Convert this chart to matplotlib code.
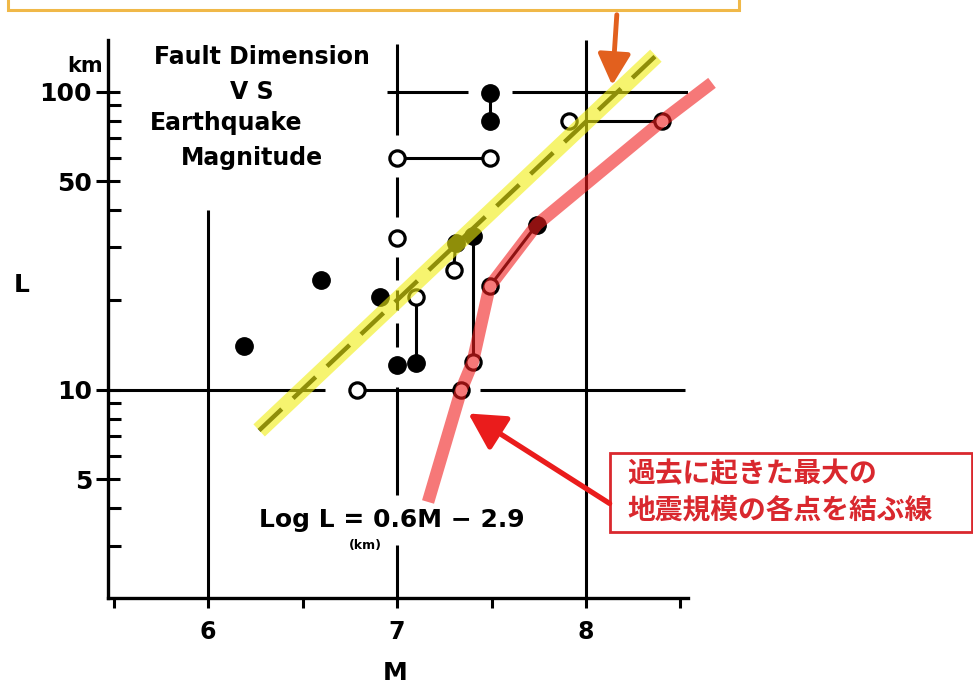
import matplotlib
matplotlib.use("Agg")
import matplotlib.pyplot as plt
from matplotlib.patches import Rectangle, FancyArrowPatch
from matplotlib.ticker import NullFormatter, FixedLocator, FixedFormatter

# ---------------- data ----------------
filled_M = [6.19, 6.60, 6.91, 7.00, 7.10, 7.31, 7.40, 7.49, 7.49, 7.74]
filled_L = [14.0, 23.3, 20.5, 12.1, 12.3, 31.0, 32.7, 99.0, 79.5, 35.8]

open_M = [7.00, 7.49, 7.91, 7.00, 7.10, 7.30, 6.79, 7.34, 7.40, 7.49, 8.40]
open_L = [60.0, 60.0, 80.0, 32.3, 20.5, 25.3, 10.0, 10.0, 12.35, 22.2, 79.5]

# lines joining pairs of points
link_M = [[7.00, 7.49], [8.00, 8.40], [7.49, 7.49], [7.10, 7.10],
          [7.31, 7.30], [7.40, 7.40], [7.49, 7.74], [6.83, 7.31]]
link_L = [[60, 60], [80, 80], [99, 79.5], [12.3, 20.5],
          [31.0, 25.3], [32.7, 12.35], [22.2, 35.8], [10, 10]]

# drawn guide lines of the original figure
guide_M = [[6.947, 7.376], [7.608, 8.54], [5.47, 6.62], [7.44, 8.525],
           [6, 6], [8, 8], [7, 7], [7, 7], [7, 7], [7, 7]]
guide_L = [[100, 100], [100, 100], [10, 10], [10, 10],
           [40, 2.0], [149, 2.0], [145, 71.6], [51.9, 38.1], [10.2, 4.44], [3.02, 2.0]]
dash_M = [[7, 7], [7, 7], [7, 7]]
dash_L = [[27.9, 23.4], [21.6, 18.5], [16.8, 13.9]]

# relation Log L = 0.6M - 2.9 (end points of the drawn line)
fit_M = [6.27, 8.37]
fit_L = [7.3, 132.0]

# highlighted line of largest past earthquakes
max_M = [7.164, 7.34, 7.40, 7.49, 7.74, 8.40, 8.667]
max_L = [4.2, 10.0, 12.35, 22.2, 35.8, 79.5, 107.0]

x_major = [6, 7, 8]
x_minor = [5.5, 6.5, 7.5, 8.5]
y_major = [5, 10, 50, 100]
y_major_labels = ["5", "10", "50", "100"]
y_minor = [3, 4, 6, 7, 8, 9, 20, 30, 40, 60, 70, 80, 90]

# ---------------- figure ----------------
W, H = 973, 690
fig = plt.figure(figsize=(W / 100, H / 100), dpi=100)
fig.patch.set_facecolor("white")


def fx(x):
    return x / W


def fy(y):
    return 1 - y / H


ax = fig.add_axes([fx(108), fy(598), (688 - 108) / W, (598 - 40) / H])
ax.set_yscale("log")
ax.set_xlim(5.47, 8.54)
ax.set_ylim(2.0, 149)
for s in ["top", "right"]:
    ax.spines[s].set_visible(False)
for s in ["left", "bottom"]:
    ax.spines[s].set_linewidth(2.4)
    ax.spines[s].set_color("black")

BF = dict(family="DejaVu Sans", weight="bold")

ax.xaxis.set_major_locator(FixedLocator(x_major))
ax.xaxis.set_minor_locator(FixedLocator(x_minor))
ax.set_xticklabels([str(v) for v in x_major], fontsize=17, **BF)
ax.tick_params(axis="x", which="both", direction="out", length=7, width=2.2, pad=9)

ax.yaxis.set_major_locator(FixedLocator(y_major))
ax.yaxis.set_major_formatter(FixedFormatter(y_major_labels))
ax.yaxis.set_minor_locator(FixedLocator(y_minor))
ax.yaxis.set_minor_formatter(NullFormatter())
ax.tick_params(axis="y", which="major", direction="inout", length=17, width=2.2, pad=3,
               labelsize=18)
ax.tick_params(axis="y", which="minor", direction="in", length=9, width=2.2)
for lab in ax.get_yticklabels():
    lab.set_fontweight("bold")

LW = 2.2
for mm, ll in zip(guide_M, guide_L):
    ax.plot(mm, ll, color="black", lw=LW, solid_capstyle="butt", zorder=2)
for mm, ll in zip(dash_M, dash_L):
    ax.plot(mm, ll, color="black", lw=LW, solid_capstyle="butt", zorder=2)
for mm, ll in zip(link_M, link_L):
    ax.plot(mm, ll, color="black", lw=LW, zorder=2)

# dashed original regression line (black) under yellow highlight
ax.plot(fit_M, fit_L, color="black", lw=3.2, dashes=(7, 3.5), zorder=3)

ax.plot(filled_M, filled_L, "o", color="black", ms=12.5, zorder=4, clip_on=False)
ax.plot(open_M, open_L, "o", mfc="white", mec="black", ms=11, mew=2.3, zorder=4)

# yellow highlight
ax.plot(fit_M, fit_L, color="#f0ee10", lw=12, alpha=0.6, solid_capstyle="butt", zorder=5)
# red highlight
ax.plot(max_M, max_L, color="#f01e1e", lw=9, alpha=0.6, solid_capstyle="butt",
        solid_joinstyle="round", zorder=6, clip_on=False)

# texts
fig.text(fx(262), fy(57), "Fault Dimension", ha="center", va="center", fontsize=17, **BF)
fig.text(fx(252), fy(92), "V S", ha="center", va="center", fontsize=17, **BF)
fig.text(fx(226), fy(123), "Earthquake", ha="center", va="center", fontsize=17, **BF)
fig.text(fx(252), fy(158), "Magnitude", ha="center", va="center", fontsize=17, **BF)
fig.text(fx(85), fy(66), "km", ha="center", va="center", fontsize=15, **BF)
fig.text(fx(22), fy(285), "L", ha="center", va="center", fontsize=18, **BF)
fig.text(fx(395), fy(673), "M", ha="center", va="center", fontsize=18, **BF)
fig.text(fx(392), fy(520), "Log L = 0.6M − 2.9", ha="center", va="center",
         fontsize=18, **BF)
fig.text(fx(365), fy(545), "(km)", ha="center", va="center", fontsize=9, **BF)

# top (cut-off) orange box and arrow
fig.patches.append(Rectangle((fx(8), fy(10)), (739 - 8) / W, 0.05, transform=fig.transFigure,
                             facecolor="white", edgecolor="#f0b848", lw=2.2, zorder=1))
fig.patches.append(FancyArrowPatch((fx(617), fy(12)), (fx(612), fy(88)),
                                   transform=fig.transFigure,
                                   arrowstyle="-|>,head_length=0.95,head_width=0.5",
                                   mutation_scale=20, color="#e2601e", lw=3.5, zorder=8))

# red annotation box
fig.patches.append(Rectangle((fx(610), fy(532)), (972 - 610) / W, (532 - 453) / H,
                             transform=fig.transFigure, facecolor="white",
                             edgecolor="#d9282e", lw=2, zorder=7))
JP = dict(family=["Noto Sans CJK JP", "DejaVu Sans"], weight="bold", color="#d9282e")
fig.text(fx(627), fy(474), "過去に起きた最大の", ha="left", va="center", fontsize=20,
         zorder=9, **JP)
fig.text(fx(627), fy(510), "地震規模の各点を結ぶ線", ha="left", va="center", fontsize=20,
         zorder=9, **JP)
fig.patches.append(FancyArrowPatch((fx(612), fy(505)), (fx(466), fy(412)),
                                   transform=fig.transFigure,
                                   arrowstyle="-|>,head_length=1.1,head_width=0.6",
                                   mutation_scale=20, color="#ea1c1c", lw=3.8, zorder=8))

fig.savefig("out.png", dpi=100, facecolor="white")
